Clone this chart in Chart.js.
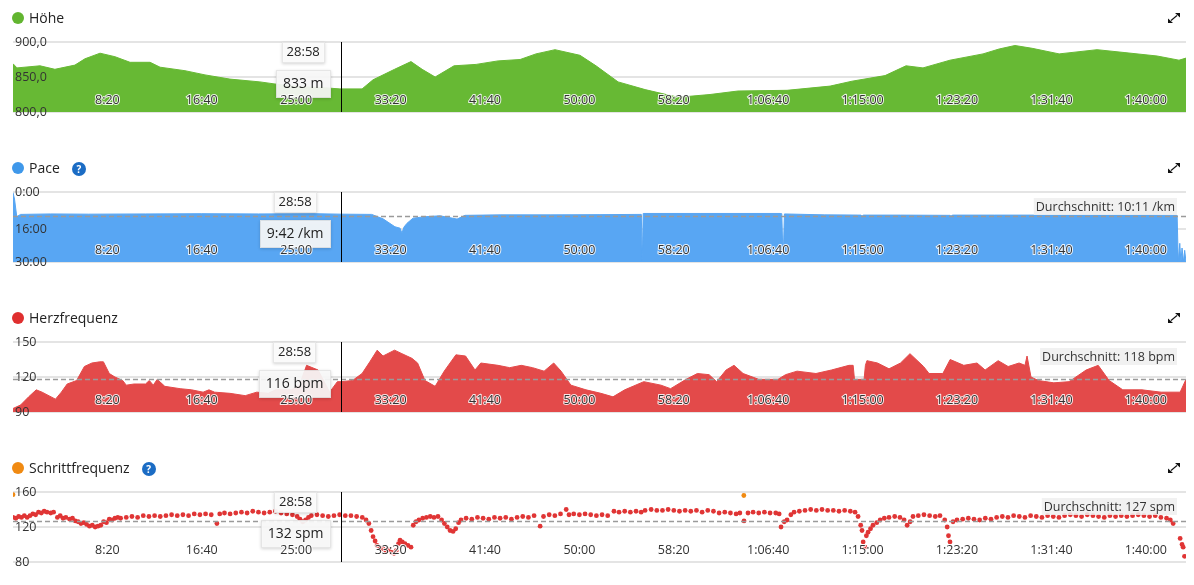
<!DOCTYPE html>
<html lang="de">
<head>
<meta charset="utf-8">
<title>Aktivität</title>
<script src="https://cdn.jsdelivr.net/npm/chart.js@4.4.1/dist/chart.umd.min.js"></script>
<style>
  html, body { margin: 0; padding: 0; background: #fff; }
  body { width: 1194px; height: 585px; position: relative; overflow: hidden; font-family: "Open Sans", sans-serif; color: #222; }
  .panel { position: absolute; left: 0; width: 1194px; height: 150px; }
  .panel canvas { position: absolute; left: 0; top: 0; }
  .title { position: absolute; left: 12px; top: 8px; height: 20px; font-size: 14px; line-height: 20px; display: flex; align-items: center; z-index: 2; }
  .dot { width: 12px; height: 12px; border-radius: 50%; margin-right: 5px; }
  .help { width: 14px; height: 14px; border-radius: 50%; background: #1b6cc4; color: #fff; font-size: 10px; font-weight: bold; line-height: 14px; text-align: center; margin-left: 12px; margin-top: 2px; }
  .expand { position: absolute; left: 1168px; top: 13px; z-index: 2; }
</style>
</head>
<body>

<div class="panel" style="top:0px"><canvas id="c0" width="1194" height="150"></canvas>
  <div class="title"><span class="dot" style="background:#62b530"></span>Höhe</div>
  <svg class="expand" width="12" height="10" viewBox="0 0 12 10"><path d="M3 7.5 L9 2.5" stroke="#111" stroke-width="1.1"/><path d="M7 0 L12 0 L12 4.5 Z" fill="#111"/><path d="M0 5.5 L0 10 L5 10 Z" fill="#111"/></svg>
</div>
<div class="panel" style="top:150px"><canvas id="c1" width="1194" height="150"></canvas>
  <div class="title"><span class="dot" style="background:#3f98ea"></span>Pace<span class="help">?</span></div>
  <svg class="expand" width="12" height="10" viewBox="0 0 12 10"><path d="M3 7.5 L9 2.5" stroke="#111" stroke-width="1.1"/><path d="M7 0 L12 0 L12 4.5 Z" fill="#111"/><path d="M0 5.5 L0 10 L5 10 Z" fill="#111"/></svg>
</div>
<div class="panel" style="top:300px"><canvas id="c2" width="1194" height="150"></canvas>
  <div class="title"><span class="dot" style="background:#df2f2f"></span>Herzfrequenz</div>
  <svg class="expand" width="12" height="10" viewBox="0 0 12 10"><path d="M3 7.5 L9 2.5" stroke="#111" stroke-width="1.1"/><path d="M7 0 L12 0 L12 4.5 Z" fill="#111"/><path d="M0 5.5 L0 10 L5 10 Z" fill="#111"/></svg>
</div>
<div class="panel" style="top:450px"><canvas id="c3" width="1194" height="150"></canvas>
  <div class="title"><span class="dot" style="background:#f08a12"></span>Schrittfrequenz<span class="help">?</span></div>
  <svg class="expand" width="12" height="10" viewBox="0 0 12 10"><path d="M3 7.5 L9 2.5" stroke="#111" stroke-width="1.1"/><path d="M7 0 L12 0 L12 4.5 Z" fill="#111"/><path d="M0 5.5 L0 10 L5 10 Z" fill="#111"/></svg>
</div>

<script>
// x axis: seconds since start
const totalSeconds = 6213;
const xTickSeconds = [500, 1000, 1500, 2000, 2500, 3000, 3500, 4000, 4500, 5000, 5500, 6000];
const xTickLabels = ['8:20', '16:40', '25:00', '33:20', '41:40', '50:00', '58:20', '1:06:40', '1:15:00', '1:23:20', '1:31:40', '1:40:00'];

// crosshair position
const markerSeconds = 1738;
const markerLabel = '28:58';

// Höhe (m), [sec, value]
const elevationTicks = [800, 850, 900];
const elevationTickLabels = ['800,0', '850,0', '900,0'];
const elevation = [[0,869],[21,863],[143,866],[222,861],[328,867],[381,876],[461,884],[540,879],[620,871],[726,871],
  [779,864],[911,859],[1017,853],[1149,847],[1308,843],[1414,839],[1520,836],[1626,835],[1732,833],[1849,833],
  [1907,846],[2021,861],[2108,872],[2167,861],[2236,850],[2336,866],[2453,868],[2569,873],[2686,875],[2770,883],
  [2871,889],[3003,881],[3088,866],[3205,843],[3348,832],[3523,821],[3692,825],[3840,830],[4100,831],[4328,837],
  [4444,844],[4619,852],[4730,866],[4820,863],[4963,874],[5138,883],[5223,890],[5307,895],[5398,891],[5541,883],
  [5742,889],[5885,885],[6060,880],[6176,874],[6213,877]];

// Pace (min/km), [sec, value]
const paceTicks = [0, 16, 30];
const paceTickLabels = ['0:00', '16:00', '30:00'];
const pace = [[0,0.3],[8,3],[20,10.6],[40,9.6],[200,9.4],[400,9.5],[700,9.4],[1000,9.3],[1300,9.4],[1600,9.3],
  [1738,9.5],[1900,9.6],[1960,11.5],[2023,14.9],[2050,15.5],[2060,17.6],[2071,15],[2087,13.4],[2119,11.2],[2182,10.6],
  [2262,10.2],[2352,11.6],[2394,10.0],[2580,9.8],[2845,9.8],[3109,9.7],[3321,9.6],[3328,9.6],[3333,30],[3338,9.2],
  [3639,9.2],[4063,9.2],[4072,9.3],[4079,30],[4086,9.4],[4300,9.8],[4490,9.9],[4497,10.3],[4505,9.9],[4700,9.9],
  [4963,10.0],[4968,10.5],[4975,9.9],[5200,9.9],[5500,9.9],[5758,9.9],[6000,9.9],[6166,10.0],[6172,30],[6180,22],
  [6186,30],[6192,24],[6200,30],[6206,25],[6213,30]];

// Herzfrequenz (bpm), [sec, value]
const heartTicks = [90, 120, 150];
const heartTickLabels = ['90', '120', '150'];
const heartRate = [[0,93],[40,96],[83,103],[123,109],[154,107],[225,101],[256,107],[287,114],[337,117],[378,129],
  [418,132],[459,133],[479,133],[510,123],[540,120],[581,117],[600,113],[641,114],[702,114],[722,117],
  [743,113],[764,118],[804,112],[885,110],[946,109],[1007,107],[1038,109],[1068,107],[1149,106],[1230,104],
  [1291,107],[1352,106],[1392,109],[1474,109],[1515,112],[1555,130],[1616,126],[1677,107],[1718,116],[1738,116],
  [1798,117],[1849,123],[1890,133],[1929,143],[1960,138],[2021,143],[2060,140],[2113,136],[2143,132],[2182,117],
  [2236,112],[2284,125],[2346,139],[2397,138],[2447,126],[2478,132],[2569,130],[2631,128],[2692,130],[2752,128],
  [2813,125],[2864,132],[2903,125],[2955,113],[3035,109],[3114,106],[3178,103],[3240,109],[3341,116],[3432,113],
  [3483,110],[3565,118],[3625,123],[3687,122],[3727,116],[3777,126],[3819,130],[3867,123],[3950,118],[4052,118],
  [4092,122],[4153,125],[4253,123],[4335,126],[4428,130],[4450,130],[4457,118],[4508,118],[4515,130],[4523,134],
  [4579,132],[4640,127],[4701,132],[4751,140],[4823,129],[4852,123],[4925,123],[4964,135],[5036,130],[5106,132],
  [5149,126],[5218,134],[5271,129],[5329,132],[5360,130],[5371,138],[5392,120],[5431,117],[5513,115],[5594,116],
  [5684,126],[5748,130],[5806,117],[5878,109],[5980,109],[6081,107],[6182,107],[6213,118]];

// Schrittfrequenz (spm), [sec, value]
const cadenceTicks = [80, 120, 160];
const cadenceTickLabels = ['80', '120', '160'];
const cadence = [[0,131],[15,130],[30,132],[45,131],[60,133],[75,131],[90,133],[105,135],[120,134],[135,137],
  [150,136],[165,138],[180,137],[200,136],[215,137],[235,131],[250,133],[265,130],[280,131],[300,129],
  [315,130],[330,127],[345,126],[360,124],[375,125],[390,123],[405,121],[420,122],[435,120],[450,121],
  [465,122],[480,126],[495,125],[510,129],[525,128],[540,130],[555,131],[570,130],[600,131],[630,132],
  [660,131],[690,133],[720,132],[750,133],[780,132],[810,133],[840,134],[870,133],[900,134],[930,133],
  [960,135],[990,134],[1020,135],[1050,134],[1080,124],[1095,135],[1120,136],[1150,135],[1180,136],[1210,137],
  [1240,136],[1270,138],[1300,137],[1330,136],[1360,137],[1390,138],[1420,136],[1450,135],[1480,134],[1505,132],
  [1520,129],[1535,126],[1550,128],[1565,131],[1580,133],[1610,134],[1640,133],[1670,132],[1700,133],[1730,134],
  [1760,133],[1790,133],[1820,132],[1850,131],[1870,128],[1885,124],[1897,116],[1907,109],[1918,104],[1928,99],
  [1945,96],[1960,95],[1975,93],[1990,94],[2005,91],[2018,90],[2030,93],[2042,101],[2050,105],[2062,103],
  [2076,101],[2092,99],[2108,97],[2120,122],[2135,126],[2150,128],[2170,130],[2190,131],[2210,132],[2230,131],
  [2251,132],[2270,128],[2285,124],[2300,120],[2315,116],[2331,115],[2345,118],[2360,125],[2373,128],[2400,130],
  [2430,129],[2460,131],[2490,130],[2520,129],[2550,131],[2580,130],[2610,131],[2640,129],[2670,131],[2700,132],
  [2730,131],[2760,133],[2792,121],[2810,132],[2840,134],[2870,133],[2900,135],[2930,140],[2945,134],[2970,135],
  [3000,134],[3030,135],[3060,134],[3090,133],[3120,134],[3150,133],[3183,138],[3210,137],[3240,138],[3270,137],
  [3300,138],[3327,137],[3348,139],[3380,140],[3410,139],[3440,139],[3470,140],[3500,139],[3530,138],[3560,139],
  [3590,138],[3620,139],[3650,137],[3680,139],[3710,138],[3740,136],[3770,137],[3800,136],[3830,135],[3850,136],
  [3872,127],[3893,136],[3920,137],[3950,136],[3980,137],[4010,136],[4040,136],[4058,135],[4068,120],[4085,126],
  [4100,128],[4120,134],[4137,137],[4165,138],[4195,139],[4225,140],[4255,139],[4285,140],[4315,139],[4345,139],
  [4375,138],[4405,139],[4435,138],[4460,137],[4476,132],[4490,122],[4497,116],[4503,103],[4513,97],[4520,110],
  [4529,114],[4542,118],[4555,122],[4575,125],[4593,128],[4615,130],[4640,131],[4670,132],[4698,131],[4720,128],
  [4736,122],[4752,126],[4767,132],[4795,133],[4825,134],[4855,133],[4885,132],[4910,133],[4935,128],[4948,120],
  [4955,110],[4963,103],[4979,126],[5000,128],[5030,129],[5060,130],[5090,129],[5120,128],[5150,130],[5180,129],
  [5210,131],[5240,132],[5270,131],[5300,133],[5330,132],[5360,131],[5390,133],[5420,132],[5450,131],[5480,133],
  [5510,132],[5540,131],[5570,133],[5600,134],[5630,133],[5660,132],[5690,134],[5720,133],[5750,132],[5780,131],
  [5810,133],[5840,132],[5870,133],[5900,132],[5930,133],[5960,134],[5990,133],[6020,132],[6050,133],[6080,131],
  [6110,130],[6130,128],[6145,124],[6182,107],[6192,100],[6198,97],[6205,86.5]];
const cadenceOther = [[0,157],[3871,156]];

const FONT = '"Open Sans", sans-serif';
Chart.defaults.font.family = FONT;
Chart.defaults.color = '#333';

const toXY = arr => arr.map(p => ({ x: p[0], y: p[1] }));

// avg line, avg label, crosshair and the two tooltip boxes
const overlayPlugin = {
  id: 'overlay',
  afterDatasetsDraw(chart, args, opts) {
    const { ctx, chartArea: a } = chart;
    const x = chart.scales.x, y = chart.scales.y;
    ctx.save();
    if (opts.avg != null) {
      const py = Math.round(y.getPixelForValue(opts.avg)) + 0.5;
      ctx.strokeStyle = '#9a9a9a';
      ctx.lineWidth = 1.5;
      ctx.setLineDash([5, 3]);
      ctx.beginPath(); ctx.moveTo(a.left, py); ctx.lineTo(a.right, py); ctx.stroke();
      ctx.setLineDash([]);
      ctx.font = '12.5px ' + FONT;
      const w = ctx.measureText(opts.avgLabel).width;
      const bx = a.right - 9 - w - 4;
      ctx.fillStyle = 'rgba(238,238,238,0.85)';
      ctx.fillRect(bx, a.top + 6, w + 4, 17);
      ctx.fillStyle = '#333';
      ctx.textBaseline = 'middle';
      ctx.fillText(opts.avgLabel, bx + 2, a.top + 15);
    }
    const px = Math.round(x.getPixelForValue(opts.markTime)) + 0.5;
    ctx.strokeStyle = '#000';
    ctx.lineWidth = 1;
    ctx.beginPath(); ctx.moveTo(px, a.top); ctx.lineTo(px, a.bottom); ctx.stroke();

    ctx.font = '14px ' + FONT;
    const vw = ctx.measureText(opts.markValue).width + 14;
    const vRight = px - 11;
    const cx = vRight - vw / 2;
    ctx.font = '13px ' + FONT;
    const tw = ctx.measureText(opts.markLabel).width + 10;

    const box = (bx, by, bw, bh, fill) => {
      ctx.save();
      ctx.shadowColor = 'rgba(0,0,0,0.18)';
      ctx.shadowBlur = 3;
      ctx.shadowOffsetY = 1;
      ctx.fillStyle = fill;
      ctx.fillRect(bx, by, bw, bh);
      ctx.restore();
      ctx.strokeStyle = 'rgba(0,0,0,0.08)';
      ctx.strokeRect(bx + 0.5, by + 0.5, bw - 1, bh - 1);
    };
    box(Math.round(cx - tw / 2), a.top, Math.round(tw), 21, 'rgba(252,252,252,0.95)');
    ctx.fillStyle = '#222';
    ctx.textAlign = 'center';
    ctx.textBaseline = 'middle';
    ctx.font = '13px ' + FONT;
    ctx.fillText(opts.markLabel, cx, a.top + 10.5);

    box(Math.round(vRight - vw), a.top + 28, Math.round(vw), 28, 'rgba(250,250,250,0.92)');
    ctx.fillStyle = '#222';
    ctx.font = '14px ' + FONT;
    ctx.fillText(opts.markValue, cx, a.top + 42);
    ctx.restore();
  }
};

function makeChart(id, datasets, yCfg, overlay) {
  return new Chart(document.getElementById(id), {
    data: { datasets: datasets },
    options: {
      responsive: false,
      animation: false,
      events: [],
      layout: { padding: { left: 9, right: 8, top: 42, bottom: 30 } },
      scales: {
        x: {
          type: 'linear', min: 0, max: totalSeconds,
          afterBuildTicks: s => { s.ticks = xTickSeconds.map(v => ({ value: v })); },
          grid: { display: false, drawTicks: false },
          border: { display: false },
          ticks: {
            mirror: true, padding: 4, z: 1, autoSkip: false, maxRotation: 0,
            font: { size: 12.5 }, color: '#333',
            textStrokeColor: 'rgba(255,255,255,0.85)', textStrokeWidth: 2,
            callback: (v, i) => xTickLabels[i]
          }
        },
        y: {
          type: 'linear', min: yCfg.min, max: yCfg.max, reverse: !!yCfg.reverse,
          afterBuildTicks: s => { s.ticks = yCfg.ticks.map(v => ({ value: v })); },
          grid: { color: '#e4e4e4', lineWidth: 2, drawTicks: false },
          border: { display: false },
          ticks: {
            mirror: true, padding: 2, z: 1, font: { size: 12.5 }, color: '#333',
            callback: (v, i) => yCfg.labels[i]
          }
        }
      },
      plugins: { legend: { display: false }, tooltip: { enabled: false }, overlay: overlay }
    },
    plugins: [overlayPlugin]
  });
}

const areaSet = (points, color) => ({
  type: 'line', data: toXY(points), fill: 'start',
  backgroundColor: color, borderColor: color, borderWidth: 1,
  pointRadius: 0, tension: 0
});

makeChart('c0', [areaSet(elevation, '#67b934')],
  { min: 800, max: 900, ticks: elevationTicks, labels: elevationTickLabels },
  { markTime: markerSeconds, markLabel: markerLabel, markValue: '833 m' });

makeChart('c1', [areaSet(pace, '#58a6f3')],
  { min: 0, max: 30, reverse: true, ticks: paceTicks, labels: paceTickLabels },
  { markTime: markerSeconds, markLabel: markerLabel, markValue: '9:42 /km', avg: 10 + 11 / 60, avgLabel: 'Durchschnitt: 10:11 /km' });

makeChart('c2', [areaSet(heartRate, '#e34a4a')],
  { min: 90, max: 150, ticks: heartTicks, labels: heartTickLabels },
  { markTime: markerSeconds, markLabel: markerLabel, markValue: '116 bpm', avg: 118, avgLabel: 'Durchschnitt: 118 bpm' });

makeChart('c3', [
  { type: 'scatter', data: toXY(cadence), backgroundColor: '#e03535', borderWidth: 0, pointRadius: 2.4 },
  { type: 'scatter', data: toXY(cadenceOther), backgroundColor: '#f08a12', borderWidth: 0, pointRadius: 2.4 }
],
  { min: 80, max: 160, ticks: cadenceTicks, labels: cadenceTickLabels },
  { markTime: markerSeconds, markLabel: markerLabel, markValue: '132 spm', avg: 127, avgLabel: 'Durchschnitt: 127 spm' });
</script>
</body>
</html>
